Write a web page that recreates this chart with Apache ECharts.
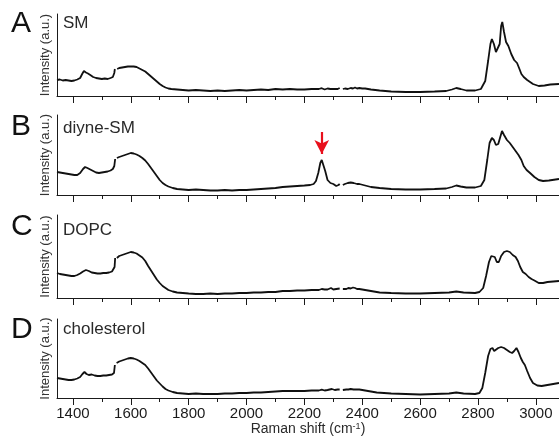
<!DOCTYPE html>
<html><head><meta charset="utf-8">
<script src="https://cdn.jsdelivr.net/npm/echarts@6/dist/echarts.min.js"></script>
<style>html,body{margin:0;padding:0;background:#fff}#c{width:559px;height:439px}</style>
</head><body><div id="c"></div>
<script>
// Raman shift range and tick values (cm^-1)
var xRange = [1345, 3080];
var majorTicks = [1400, 1600, 1800, 2000, 2200, 2400, 2600, 2800, 3000];
var minorTicks = [1500, 1700, 1900, 2100, 2300, 2500, 2700, 2900];
var panelLetters = ['A', 'B', 'C', 'D'];
var panelNames = ['SM', 'diyne-SM', 'DOPC', 'cholesterol'];
var yMax = [82, 80, 83, 79];
// red arrow marking the alkyne peak in diyne-SM: [x, tail, tip]
var arrowAt = [2260, 63, 41];

var smData = [[1345,16],[1355,16.5],[1365,15.5],[1375,16],[1385,15.5],[1395,15],[1405,15.5],[1415,16.5],[1425,18],[1432,22],[1438,25],[1445,23.5],[1452,22.5],[1460,21],[1470,19],[1480,18],[1490,17.5],[1500,17],[1510,17.5],[1520,17],[1530,18],[1538,19],[1543,23],[1545,27],[1548,'-'],[1553,27],[1560,28],[1565,27.5],[1570,28.5],[1575,28],[1580,29],[1585,28.5],[1590,29.5],[1595,30],[1600,29.5],[1605,30],[1610,29.5],[1615,29],[1620,29],[1625,28],[1630,27.5],[1640,26],[1650,24.5],[1660,22],[1670,19.5],[1680,17],[1690,14.5],[1700,12],[1710,10],[1720,8.5],[1730,7.5],[1740,7],[1760,6.5],[1780,6],[1800,5.5],[1825,6],[1850,5.5],[1875,5],[1900,5.5],[1925,5],[1950,5.5],[1975,6],[2000,5.5],[2025,6],[2050,6.5],[2075,6],[2100,7],[2125,6.5],[2150,7],[2175,6.5],[2200,6.5],[2225,7],[2250,7],[2260,7.8],[2270,6.5],[2280,7.5],[2290,7],[2295,8],[2300,7],[2305,7.5],[2315,7],[2322,8],[2327,'-'],[2333,7],[2340,7.5],[2345,8.5],[2350,7],[2355,8.5],[2360,8],[2368,7.5],[2375,8.5],[2382,7.5],[2390,8],[2400,7.5],[2410,7.5],[2430,6.5],[2460,5.5],[2500,4.5],[2550,4],[2600,4],[2650,4.5],[2690,5],[2710,6.5],[2725,8],[2740,7],[2760,5.5],[2790,5.5],[2810,7],[2825,15],[2835,35],[2843,52],[2848,57],[2855,52],[2862,44],[2868,42],[2875,52],[2880,70],[2884,74],[2890,64],[2897,54],[2905,50],[2915,42],[2925,36],[2935,33],[2942,28],[2950,22],[2958,19],[2970,16],[2990,12],[3010,10],[3030,10.5],[3050,11.5],[3080,12]];

var diyneData = [[1345,23],[1355,22.5],[1365,22],[1375,21.5],[1385,21],[1395,20.5],[1405,20],[1415,20],[1425,22],[1435,26],[1442,28],[1450,27],[1460,25.5],[1470,24],[1480,22.5],[1490,22],[1500,22.5],[1510,23],[1520,23.5],[1530,24.5],[1538,26],[1543,29],[1546,36],[1548,'-'],[1552,37],[1560,38],[1565,37.5],[1570,39],[1575,38.5],[1580,40],[1585,40.5],[1590,41],[1595,41.5],[1600,42],[1605,41],[1610,41.5],[1620,40.5],[1630,39],[1640,37],[1650,34.5],[1660,31],[1670,27],[1680,23],[1690,19],[1700,15],[1710,12],[1720,10],[1730,8.5],[1745,7],[1760,6],[1780,5.5],[1800,5],[1825,5.5],[1850,5],[1875,4.5],[1900,4.5],[1925,5],[1950,4.5],[1975,5],[2000,5],[2025,5.5],[2050,6],[2075,6.5],[2100,7],[2125,8],[2150,8.5],[2175,9],[2200,9.5],[2220,10],[2232,11],[2240,14],[2248,22],[2255,32],[2260,35],[2265,33],[2272,24],[2280,15],[2290,12],[2300,11],[2310,9],[2318,10],[2322,11],[2327,'-'],[2333,10],[2340,11],[2345,10.5],[2350,12],[2355,11],[2360,12.5],[2365,11],[2370,12],[2375,11.5],[2382,11],[2390,11],[2410,9.5],[2430,8],[2460,7],[2500,6],[2550,5.5],[2600,5.5],[2650,6],[2690,6.5],[2710,8],[2725,9.5],[2740,8.5],[2760,7.5],[2790,7.5],[2810,9],[2822,15],[2832,35],[2840,52],[2848,57],[2855,55],[2862,50],[2870,51],[2877,58],[2883,64],[2890,60],[2900,55],[2910,52],[2920,48],[2930,44],[2940,40],[2950,35],[2958,29],[2968,25],[2980,22],[2995,18],[3010,15],[3025,14],[3045,14.5],[3080,16]];

var dopcData = [[1345,25],[1355,24],[1365,23.5],[1375,23],[1385,22.5],[1395,22],[1405,22],[1415,23],[1425,24.5],[1435,26.5],[1445,28],[1455,27],[1465,25.5],[1475,25],[1485,24.5],[1495,24.5],[1505,25],[1515,25],[1525,25.5],[1535,26.5],[1541,28],[1544,31],[1546,40],[1549,'-'],[1552,40],[1560,42],[1565,41.5],[1570,43],[1575,43.5],[1580,44],[1585,45],[1590,45],[1595,46],[1600,46],[1605,45],[1610,45.5],[1620,44.5],[1630,42.5],[1640,40.5],[1650,37],[1660,32],[1670,27.5],[1680,23],[1690,18.5],[1700,15],[1710,12],[1720,10],[1730,8],[1745,6.5],[1760,5.5],[1780,5],[1800,4.5],[1825,4],[1850,4],[1875,4.5],[1900,4],[1925,4.5],[1950,4.5],[1975,5],[2000,5],[2025,5.5],[2050,5.5],[2075,6],[2100,6],[2125,7],[2150,7],[2175,7.5],[2200,7.5],[2225,8],[2250,8],[2260,9],[2270,8.5],[2280,8.5],[2292,10],[2300,8.5],[2310,9],[2322,9.5],[2327,'-'],[2333,9],[2345,9],[2352,10],[2360,9.5],[2368,10.5],[2375,10],[2382,9],[2390,9],[2410,8],[2430,7],[2460,5.5],[2500,5],[2550,4.5],[2600,4.5],[2650,5],[2700,5.5],[2725,6.5],[2750,5.5],[2790,5],[2805,6],[2818,10],[2828,22],[2838,36],[2846,42],[2852,44],[2858,41],[2865,36],[2872,36],[2880,42],[2890,46],[2900,47],[2910,46],[2920,43],[2930,41],[2938,37],[2946,31],[2955,26],[2965,24],[2975,21],[2985,19],[2995,17.5],[3010,15],[3025,15],[3040,16],[3060,16.5],[3080,17]];

var cholData = [[1345,20],[1355,19.5],[1365,19],[1375,18.5],[1385,18],[1395,18],[1405,18.5],[1415,19.5],[1425,21],[1433,24],[1440,26],[1447,24],[1455,23],[1465,23.5],[1475,22.5],[1485,22],[1495,22],[1505,22.5],[1515,22.5],[1525,23],[1535,23.5],[1542,25],[1545,33],[1548,'-'],[1551,35],[1560,36.5],[1565,36],[1570,37.5],[1575,38],[1580,38.5],[1585,39.5],[1590,39.5],[1595,40],[1600,40],[1605,39.5],[1610,39.5],[1620,38.5],[1630,37],[1640,35],[1650,33],[1660,29.5],[1670,25.5],[1680,21.5],[1690,17.5],[1700,14.5],[1710,11.5],[1720,9],[1730,7.5],[1745,6],[1760,5],[1780,4.5],[1800,4],[1825,4.5],[1850,4],[1875,4],[1900,4],[1925,4.5],[1950,4.5],[1975,5],[2000,5],[2025,5.5],[2050,5.5],[2075,6],[2100,6.5],[2125,7],[2150,7],[2175,7],[2200,7],[2225,7.5],[2250,7.5],[2260,8.3],[2270,7.5],[2280,8],[2295,9],[2305,8],[2315,8.5],[2322,8.5],[2327,'-'],[2333,8],[2345,8.5],[2352,8.5],[2360,9],[2370,8.5],[2380,8.5],[2390,8.5],[2400,8],[2420,7],[2450,5.5],[2500,4.5],[2550,4],[2600,3.5],[2650,4],[2700,4.5],[2725,5.5],[2750,4.5],[2790,4],[2805,5],[2815,10],[2825,25],[2835,42],[2843,49],[2850,50],[2856,47],[2862,48],[2870,50],[2880,51],[2890,50],[2900,48],[2910,46],[2918,45],[2925,47],[2933,50],[2940,46],[2948,40],[2955,36],[2962,33],[2970,27],[2980,20],[2990,15],[3005,12.5],[3020,12],[3040,13],[3060,14],[3080,15]];

var allData = [smData, diyneData, dopcData, cholData];
var gridTops = [14, 115, 215, 319];
var FONT = '"Liberation Sans", Arial, sans-serif';

var grids = [], xAxes = [], yAxes = [], series = [], graphics = [];
var letterY = [25, 128, 228, 331];
var nameY = [24, 129, 231, 330];
for (var i = 0; i < 4; i++) {
  grids.push({left: 57, right: 0, top: gridTops[i], height: yMax[i]});
  var last = (i === 3);
  xAxes.push({
    type: 'value', gridIndex: i, min: xRange[0], max: xRange[1],
    axisLine: {show: true, lineStyle: {color: '#1a1a1a', width: 1}},
    axisTick: {show: true, length: 7, customValues: majorTicks, lineStyle: {color: '#1a1a1a'}},
    axisLabel: {show: last, customValues: majorTicks, margin: 8, color: '#1a1a1a', fontSize: 15, fontFamily: FONT,
      formatter: function (v) { return String(v); }},
    splitLine: {show: false},
    name: last ? 'Raman shift (cm{sup|-1})' : '',
    nameLocation: 'middle', nameGap: 24,
    nameTextStyle: {color: '#2a2a2a', fontSize: 14, fontFamily: FONT,
      rich: {sup: {fontSize: 9, verticalAlign: 'top', color: '#2a2a2a', fontFamily: FONT, padding: [0, 0, 6, 0]}}}
  });
  xAxes.push({
    type: 'value', gridIndex: i, min: xRange[0], max: xRange[1], position: 'bottom',
    axisLine: {show: false},
    axisTick: {show: true, length: 4, customValues: minorTicks, lineStyle: {color: '#1a1a1a'}},
    axisLabel: {show: false}, splitLine: {show: false}
  });
  yAxes.push({
    type: 'value', gridIndex: i, min: 0, max: yMax[i],
    axisLine: {show: true, lineStyle: {color: '#1a1a1a', width: 1}},
    axisTick: {show: false}, axisLabel: {show: false}, splitLine: {show: false},
    name: 'Intensity (a.u.)', nameLocation: 'middle', nameGap: 5, nameRotate: 90,
    nameTextStyle: {color: '#333', fontSize: 13, fontFamily: FONT}
  });
  var s = {
    type: 'line', xAxisIndex: 2 * i, yAxisIndex: i, data: allData[i],
    showSymbol: false, symbol: 'none', connectNulls: false, silent: true, animation: false,
    lineStyle: {color: '#111', width: 1.8}
  };
  if (i === 1) {
    s.markLine = {
      silent: true, animation: false, symbol: ['none', 'arrow'], symbolSize: [11, 14],
      label: {show: false},
      lineStyle: {color: '#e8101c', width: 2.2, type: 'solid'},
      data: [[{coord: [arrowAt[0], arrowAt[1]]}, {coord: [arrowAt[0], arrowAt[2]]}]]
    };
  }
  series.push(s);
  graphics.push({type: 'text', left: 11, top: letterY[i] - 16,
    style: {text: panelLetters[i], fontSize: 30, fontFamily: FONT, fill: '#111'}});
  graphics.push({type: 'text', left: 63, top: nameY[i] - 9,
    style: {text: panelNames[i], fontSize: 17, fontFamily: FONT, fill: '#2a2a2a'}});
}

var chart = echarts.init(document.getElementById('c'), null, {renderer: 'canvas'});
chart.setOption({
  animation: false,
  backgroundColor: '#fff',
  grid: grids, xAxis: xAxes, yAxis: yAxes, series: series, graphic: graphics
});
</script></body></html>
